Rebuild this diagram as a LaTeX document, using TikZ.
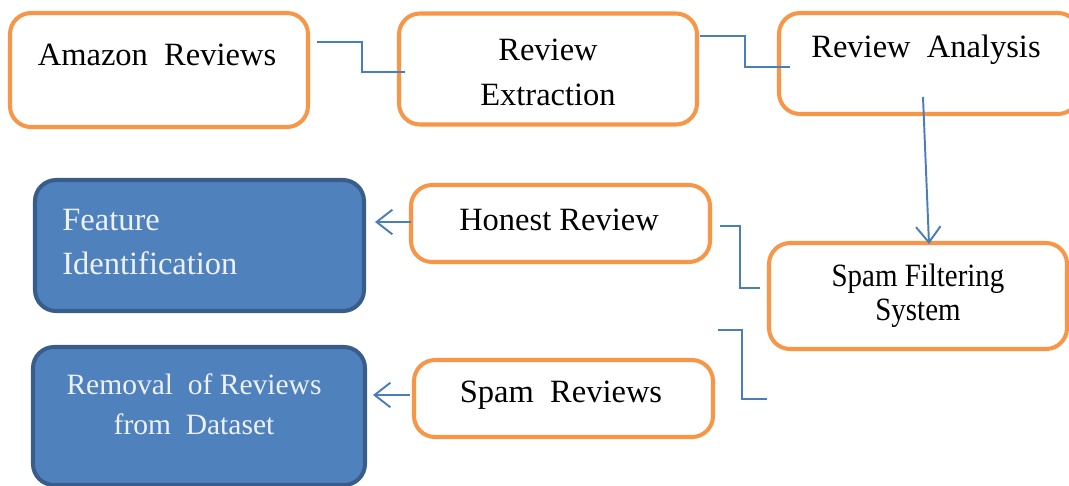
\documentclass[tikz,border=0pt]{standalone}
\usepackage{graphicx}
\usepackage{fontspec}
\setmainfont{Liberation Serif}
\usetikzlibrary{arrows.meta}

\definecolor{boxorange}{HTML}{F79646}
\definecolor{boxblue}{HTML}{4F81BD}
\definecolor{boxblueline}{HTML}{385D8A}
\definecolor{linkblue}{HTML}{4A7EBB}
\definecolor{paletext}{HTML}{EEF2F8}

\newcommand{\boxfont}{\fontsize{18.5}{25.5}\selectfont}
\newcommand{\narrow}[1]{\scalebox{0.89}[1]{#1}}

\tikzset{
  stagebox/.style={draw=boxorange, line width=2.3pt, rounded corners=12pt,
    fill=white, align=center, inner sep=0pt, font=\boxfont},
  resultbox/.style={draw=boxblueline, line width=2.3pt, rounded corners=12pt,
    fill=boxblue, text=paletext, inner sep=0pt, font=\boxfont},
  boxtext/.style={inner sep=0pt, font=\boxfont},
  link/.style={draw=linkblue, line width=1.1pt},
  linkarrow/.style={link, -{Straight Barb[length=9pt,width=14pt,line width=1.1pt]}}
}

\begin{document}
\begin{tikzpicture}[x=0.02cm,y=-0.02cm]
\useasboundingbox (0,0) rectangle (1069,485);
% top row
\node[stagebox, minimum width=298*0.02cm, minimum height=114*0.02cm] (amazon) at (159,70) {};
\node[boxtext] (amazontext) at (157,55) {Amazon\ \ Reviews};
\node[stagebox, minimum width=298*0.02cm, minimum height=111*0.02cm] (extract) at (548,69) {};
\node[boxtext, align=center] (extracttext) at (548,72) {Review\\Extraction};
\node[stagebox, minimum width=300*0.02cm, minimum height=101*0.02cm] (analysis) at (929,63.5) {};
\node[boxtext] (analysistext) at (926,50) {Review\ \ Analysis};
% middle and bottom rows
\node[stagebox, minimum width=299*0.02cm, minimum height=77*0.02cm] (honest) at (560.5,223.5) {};
\node[boxtext] (honesttext) at (559,220) {Honest Review};
\node[stagebox, minimum width=298*0.02cm, minimum height=106*0.02cm,
  font=\fontsize{18.5}{19.5}\selectfont] (filter) at (918,296) {\narrow{Spam Filtering}\\\narrow{System}};
\node[stagebox, minimum width=299*0.02cm, minimum height=77*0.02cm] (spam) at (563.5,398.5) {};
\node[boxtext] (spamtext) at (561,395) {Spam\ \ Reviews};
\node[resultbox, minimum width=329*0.02cm, minimum height=131*0.02cm] (feature) at (199.5,245.5) {};
\node[boxtext, text=paletext, align=left, anchor=west] (featuretext) at (62,242) {Feature\\Identification};
\node[resultbox, minimum width=332*0.02cm, minimum height=138*0.02cm] (removal) at (199,416) {};
\node[boxtext, text=paletext, align=center, font=\fontsize{16.8}{22.7}\selectfont]
  (removaltext) at (194,404) {Removal\ \ of Reviews\\from\ \ Dataset};

% free ends of the connectors
\coordinate (a1) at (317,42);
\coordinate (a2) at (405,72);
\coordinate (b1) at (700,36);
\coordinate (b2) at (790,67);
\coordinate (c1) at (923,97);
\coordinate (c2) at (929,244);
\coordinate (d1) at (720,226);
\coordinate (d2) at (760,288);
\coordinate (e1) at (718,330);
\coordinate (e2) at (767,399);
\coordinate (f1) at (411,222);
\coordinate (f2) at (375,222);
\coordinate (g1) at (410,395);
\coordinate (g2) at (373,395);

\draw[link] (a1) -- (362,42) |- (a2);
\draw[link] (b1) -- (745,36) |- (b2);
\draw[linkarrow] (c1) -- (c2);
\draw[link] (d1) -- (740,226) |- (d2);
\draw[link] (e1) -- (742,330) |- (e2);
\draw[linkarrow] (f1) -- (f2);
\draw[linkarrow] (g1) -- (g2);
\end{tikzpicture}
\end{document}
